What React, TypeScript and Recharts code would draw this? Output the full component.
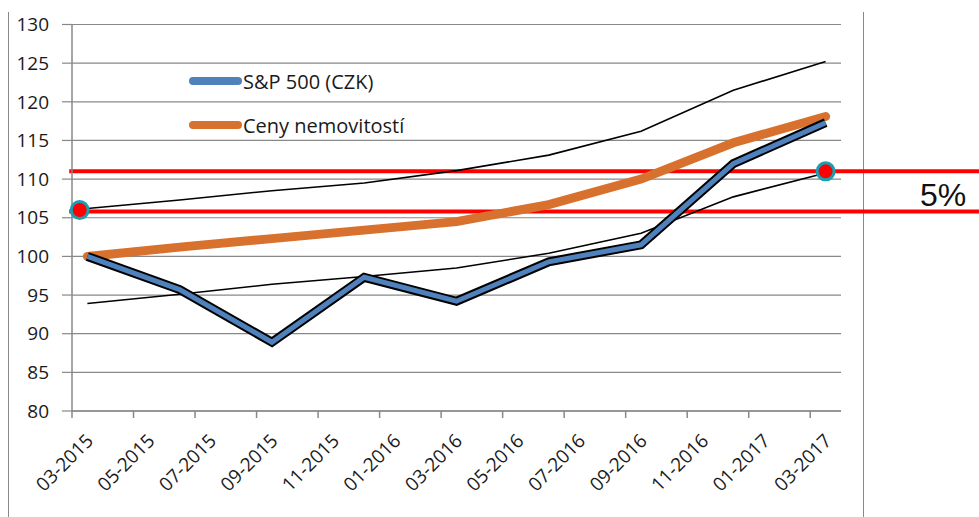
import React from "react";
import {
  LineChart,
  Line,
  XAxis,
  YAxis,
  CartesianGrid,
  ReferenceLine,
  ReferenceDot,
  Legend,
} from "recharts";

// quarterly observations
const quarters = [
  "03-2015", "06-2015", "09-2015", "12-2015", "03-2016",
  "06-2016", "09-2016", "12-2016", "03-2017",
];
const sp500 = [100, 95.7, 88.9, 97.3, 94.2, 99.3, 101.5, 112.0, 117.3];
const cenyNemovitosti = [100, 101.2, 102.3, 103.4, 104.5, 106.7, 110.0, 114.7, 118.1];
const upperBand = [106.2, 107.3, 108.5, 109.5, 111.1, 113.1, 116.2, 121.5, 125.2];
const lowerBand = [93.9, 95.1, 96.4, 97.4, 98.5, 100.4, 103.0, 107.7, 110.8];

const xTickLabels = [
  "03-2015", "05-2015", "07-2015", "09-2015", "11-2015", "01-2016", "03-2016",
  "05-2016", "07-2016", "09-2016", "11-2016", "01-2017", "03-2017",
];
const yTicks = [80, 85, 90, 95, 100, 105, 110, 115, 120, 125, 130];
const legendOrder = ["S&P 500 (CZK)", "Ceny nemovitostí"];

const redLevels = [111, 105.8];
const markerMonths = [-0.25, 24];
const markerValues = [106, 111];
const bandText = "5%";

const GRID = "#888888";
const BLUE = "#4F81BD";
const ORANGE = "#D8712D";
const PLOT_W = 769;
const MONTHS = 25;
const HALF = PLOT_W / MONTHS / 2;

const monthIndex = (s: string) => {
  const [mm, yy] = s.split("-").map(Number);
  return (yy - 2015) * 12 + mm - 3;
};

const data = quarters.map((q, i) => ({
  m: monthIndex(q),
  sp: sp500[i],
  ceny: cenyNemovitosti[i],
  upper: upperBand[i],
  lower: lowerBand[i],
}));

const labelByMonth: Record<number, string> = {};
xTickLabels.forEach((l) => (labelByMonth[monthIndex(l)] = l));

const XTick = ({ x, y, payload }: any) => (
  <g>
    <line x1={x - HALF} x2={x - HALF} y1={y} y2={y + 7} stroke={GRID} strokeWidth={1.5} />
    <text
      x={0}
      y={0}
      transform={`translate(${x + 7},${y + 31}) rotate(-45)`}
      textAnchor="end"
      fontSize={19}
      fontFamily="'Open Sans', sans-serif"
      fill="#1a1a1a"
    >
      {labelByMonth[payload.value]}
    </text>
  </g>
);

const renderLegend = (props: any) => {
  const items = (props.payload || [])
    .filter((p: any) => legendOrder.includes(p.value))
    .sort((a: any, b: any) => legendOrder.indexOf(a.value) - legendOrder.indexOf(b.value));
  return (
    <div>
      {items.map((p: any) => (
        <div key={p.value} style={{ display: "flex", alignItems: "center", height: 44 }}>
          <svg width={55} height={12}>
            <line x1={5} y1={6} x2={50} y2={6} stroke={p.color} strokeWidth={8} strokeLinecap="round" />
          </svg>
          <span style={{ fontSize: 20, fontFamily: "'Open Sans', sans-serif", color: "#1a1a1a" }}>
            {p.value}
          </span>
        </div>
      ))}
    </div>
  );
};

export default function App() {
  return (
    <div style={{ position: "absolute", left: 0, top: 0, width: 979, height: 517, background: "#fff" }}>
      <div style={{ position: "absolute", left: 8, top: 12, width: 1, height: 505, background: GRID }} />
      <div style={{ position: "absolute", left: 863, top: 12, width: 1, height: 505, background: GRID }} />
      <LineChart
        width={979}
        height={517}
        data={data}
        margin={{ top: 24.5, right: 138, left: 0, bottom: 0 }}
      >
        <CartesianGrid vertical={false} stroke={GRID} strokeWidth={1.2} />
        <XAxis
          dataKey="m"
          type="number"
          domain={[-0.5, 24.5]}
          ticks={xTickLabels.map(monthIndex)}
          interval={0}
          tick={<XTick />}
          tickLine={false}
          tickSize={0}
          tickMargin={0}
          height={106}
          axisLine={{ stroke: GRID, strokeWidth: 1.5 }}
        />
        <YAxis
          domain={[80, 130]}
          ticks={yTicks}
          interval={0}
          width={72}
          tickSize={10}
          tickMargin={13}
          tickLine={{ stroke: GRID, strokeWidth: 1.2 }}
          axisLine={{ stroke: GRID, strokeWidth: 1.5 }}
          tick={{ fill: "#1a1a1a", fontSize: 19, fontFamily: "'Open Sans', sans-serif" }}
        />
        <Legend
          layout="vertical"
          align="center"
          verticalAlign="middle"
          wrapperStyle={{ left: 188, top: 59, width: 320 }}
          content={renderLegend}
        />
        {redLevels.map((v) => (
          <ReferenceLine
            key={v}
            segment={[{ x: -0.59, y: v }, { x: 29.1, y: v }]}
            stroke="#FF0000"
            strokeWidth={4}
            ifOverflow="visible"
          />
        ))}
        <Line dataKey="upper" stroke="#000" strokeWidth={1.6} dot={false} legendType="none" isAnimationActive={false} />
        <Line dataKey="lower" stroke="#000" strokeWidth={1.6} dot={false} legendType="none" isAnimationActive={false} />
        <Line
          dataKey="ceny"
          name="Ceny nemovitostí"
          stroke={ORANGE}
          strokeWidth={9}
          strokeLinecap="round"
          dot={false}
          isAnimationActive={false}
        />
        <Line dataKey="sp" stroke="#000" strokeWidth={9} dot={false} legendType="none" isAnimationActive={false} />
        <Line
          dataKey="sp"
          name="S&P 500 (CZK)"
          stroke={BLUE}
          strokeWidth={5}
          dot={false}
          isAnimationActive={false}
        />
        {markerMonths.map((m, i) => (
          <ReferenceDot
            key={m}
            x={m}
            y={markerValues[i]}
            r={8.5}
            fill="#FF0000"
            stroke="#1A9FB3"
            strokeWidth={3}
            ifOverflow="visible"
          />
        ))}
      </LineChart>
      <div
        style={{
          position: "absolute",
          left: 920,
          top: 177,
          fontSize: 32,
          lineHeight: "37px",
          fontFamily: "'Liberation Sans', Arial, sans-serif",
          color: "#111",
        }}
      >
        {bandText}
      </div>
    </div>
  );
}
